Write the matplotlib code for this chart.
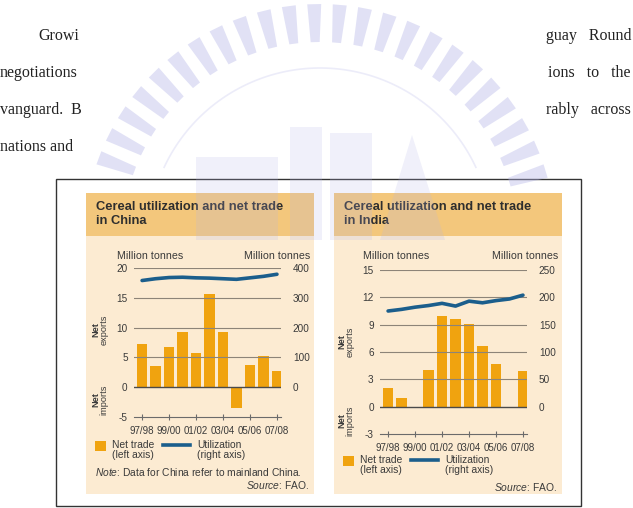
import numpy as np
import matplotlib.pyplot as plt
from matplotlib.patches import Rectangle, Polygon
from matplotlib.lines import Line2D

# data
years = ['97/98', '98/99', '99/00', '00/01', '01/02', '02/03',
         '03/04', '04/05', '05/06', '06/07', '07/08']
tick_years = ['97/98', '99/00', '01/02', '03/04', '05/06', '07/08']

china_trade = [7.3, 3.5, 6.8, 9.3, 5.7, 15.7, 9.3, -3.5, 3.7, 5.3, 2.7]
china_util = [358, 364, 368, 369, 367, 366, 364, 362, 367, 372, 379]

india_trade = [2.1, 1.0, -0.1, 4.0, 9.9, 9.6, 9.1, 6.7, 4.7, 0.0, 3.9]
india_util = [175, 178, 182, 185, 189, 184, 193, 190, 194, 197, 204]

china_left = [-5, 0, 5, 10, 15, 20]
china_right = [0, 100, 200, 300, 400]
india_left = [-3, 0, 3, 6, 9, 12, 15]
india_right = [0, 50, 100, 150, 200, 250]

W, H = 633, 508
SANS = ['Liberation Sans', 'DejaVu Sans']
SERIF = ['Liberation Serif', 'DejaVu Serif']
BAR = '#f0a30f'
LINE = '#1b5e8c'
PANEL = '#fcebd2'
HEAD = '#f3c77c'
TXT = '#3a3a3a'

plt.rcParams['mathtext.fontset'] = 'custom'
plt.rcParams['mathtext.it'] = 'Liberation Sans:italic'

fig = plt.figure(figsize=(W / 100, H / 100), dpi=100)
fig.patch.set_facecolor('white')


def fx(x):
    return x / W


def fy(y):
    return 1 - y / H


def ftext(x, y, s, **kw):
    kw.setdefault('family', SANS)
    kw.setdefault('color', TXT)
    kw.setdefault('va', 'center')
    fig.text(fx(x), fy(y), s, **kw)


def frect(x0, y0, x1, y1, **kw):
    fig.patches.append(Rectangle((fx(x0), fy(y1)), fx(x1) - fx(x0), fy(y0) - fy(y1),
                                 transform=fig.transFigure, **kw))


# page text (scanned document around the box)
body = dict(family=SERIF, fontsize=11.5, color='#222222')
ftext(38, 36, 'Growi', **body)
ftext(631, 36, 'guay   Round', ha='right', **body)
ftext(0, 73, 'negotiations', **body)
ftext(631, 73, 'ions   to   the', ha='right', **body)
ftext(0, 110, 'vanguard.  B', **body)
ftext(631, 110, 'rably   across', ha='right', **body)
ftext(0, 147, 'nations and', **body)

# outer box
frect(56, 179, 581, 506, facecolor='white', edgecolor='#333333', lw=1.0, zorder=-3)


def panel(x0, x1, title, ax_box, trade, util, lticks, rticks, rlim, ylab_x, exp_y, imp_y,
          leg_y, source_y, note=None):
    frect(x0, 193, x1, 494, facecolor=PANEL, edgecolor='none', zorder=-2)
    frect(x0, 193, x1, 236, facecolor=HEAD, edgecolor='none', zorder=-1)
    ftext(x0 + 10, 214, title, fontsize=9.3, fontweight='bold', color='#2e2e2e',
          linespacing=1.3)

    l, r, t, b = ax_box
    ax = fig.add_axes([fx(l), fy(b), fx(r) - fx(l), fy(t) - fy(b)])
    ax.patch.set_visible(False)
    x = np.arange(len(years))
    ax.bar(x, trade, width=0.76, color=BAR, zorder=1)
    ax.set_xlim(-0.6, len(years) - 0.7)
    ax.set_ylim(lticks[0], lticks[-1])
    ax.set_yticks(lticks)
    ax.set_yticklabels([str(v) for v in lticks])
    ax.set_xticks(x[::2])
    ax.set_xticklabels(tick_years)
    for s in ['top', 'left', 'right']:
        ax.spines[s].set_visible(False)
    ax.spines['bottom'].set_color('#6b6b6b')
    ax.spines['bottom'].set_linewidth(0.8)
    ax.tick_params(axis='y', length=0, pad=4.5, labelsize=7.2, labelcolor=TXT)
    ax.tick_params(axis='x', direction='inout', length=5, width=0.8, color='#6b6b6b',
                   pad=4, labelsize=7.0, labelcolor=TXT)
    for v in lticks[1:]:
        ax.axhline(v, color='#8d8478' if v != 0 else '#4a4a4a', lw=0.8 if v else 1.0,
                   zorder=2)

    ax2 = ax.twinx()
    ax2.plot(x, util, color=LINE, lw=2.6, solid_capstyle='round')
    ax2.set_ylim(rlim)
    ax2.set_yticks(rticks)
    ax2.set_yticklabels([str(v) for v in rticks])
    for s in ax2.spines.values():
        s.set_visible(False)
    ax2.tick_params(axis='y', length=0, pad=8.5, labelsize=7.2, labelcolor=TXT)
    for lab in ax.get_yticklabels() + ax2.get_yticklabels() + ax.get_xticklabels():
        lab.set_family(SANS)

    ftext(l - 17, 256, 'Million tonnes', fontsize=7.7)
    ftext(x1 - 4, 256, 'Million tonnes', fontsize=7.7, ha='right')
    for yy, word in [(exp_y, 'exports'), (imp_y, 'imports')]:
        ftext(ylab_x - 4, yy, 'Net', fontsize=6.6, fontweight='bold', rotation=90, ha='center')
        ftext(ylab_x + 4, yy, word, fontsize=6.6, rotation=90, ha='center')

    # legend
    lx = x0 + 9
    frect(lx, leg_y - 5, lx + 11, leg_y + 5, facecolor=BAR, edgecolor='none')
    ftext(lx + 17, leg_y - 1, 'Net trade', fontsize=7.4)
    ftext(lx + 17, leg_y + 9, '(left axis)', fontsize=7.4)
    fig.add_artist(Line2D([fx(lx + 68), fx(lx + 95)], [fy(leg_y - 1)] * 2, color=LINE, lw=2.6,
                          transform=fig.transFigure))
    ftext(lx + 102, leg_y - 1, 'Utilization', fontsize=7.4)
    ftext(lx + 102, leg_y + 9, '(right axis)', fontsize=7.4)
    if note:
        fig.text(fx(x0 + 9), fy(472), r'$\it{Note}$' + ': ' + note, fontsize=7.4,
                 family=SANS, color=TXT, va='center')
    fig.text(fx(x1 - 5), fy(source_y), r'$\it{Source}$' + ': FAO.', fontsize=7.4,
             family=SANS, color=TXT, va='center', ha='right')
    return ax


panel(86, 314, 'Cereal utilization and net trade\nin China', (134, 281, 268, 417),
      china_trade, china_util, china_left, china_right, (-100, 400),
      100, 330, 400, 446, 485, note='Data for China refer to mainland China.')
panel(334, 562, 'Cereal utilization and net trade\nin India', (380, 527, 270, 434),
      india_trade, india_util, india_left, india_right, (-50, 250),
      346, 342, 421, 461, 487)

# faint watermark logo of the scanned page
WM = '#b4b5e8'
cx, cy, r1, r2 = 320, 240, 198, 236
for ang in np.arange(17, 165, 6.2):
    a = np.deg2rad(ang)
    pts = []
    for rr, da in [(r1, -1.3), (r2, -1.7), (r2, 1.7), (r1, 1.3)]:
        d = np.deg2rad(da)
        pts.append((fx(cx + rr * np.cos(a + d)), fy(cy - rr * np.sin(a + d))))
    fig.patches.append(Polygon(pts, closed=True, transform=fig.transFigure,
                               facecolor=WM, edgecolor='none', alpha=0.4, zorder=10))
th = np.linspace(np.deg2rad(25), np.deg2rad(155), 100)
fig.add_artist(Line2D(fx(cx + 172 * np.cos(th)), fy(cy - 172 * np.sin(th)), color=WM,
                      lw=1.2, alpha=0.25, transform=fig.transFigure, zorder=10))
for (x0, y0, x1, y1) in [(196, 157, 278, 240), (290, 127, 322, 240), (330, 133, 372, 240)]:
    frect(x0, y0, x1, y1, facecolor=WM, edgecolor='none', alpha=0.2, zorder=10)
fig.patches.append(Polygon([(fx(380), fy(240)), (fx(412), fy(135)), (fx(445), fy(240))],
                           closed=True, transform=fig.transFigure, facecolor=WM,
                           edgecolor='none', alpha=0.2, zorder=10))

fig.savefig('out.png', dpi=100)
